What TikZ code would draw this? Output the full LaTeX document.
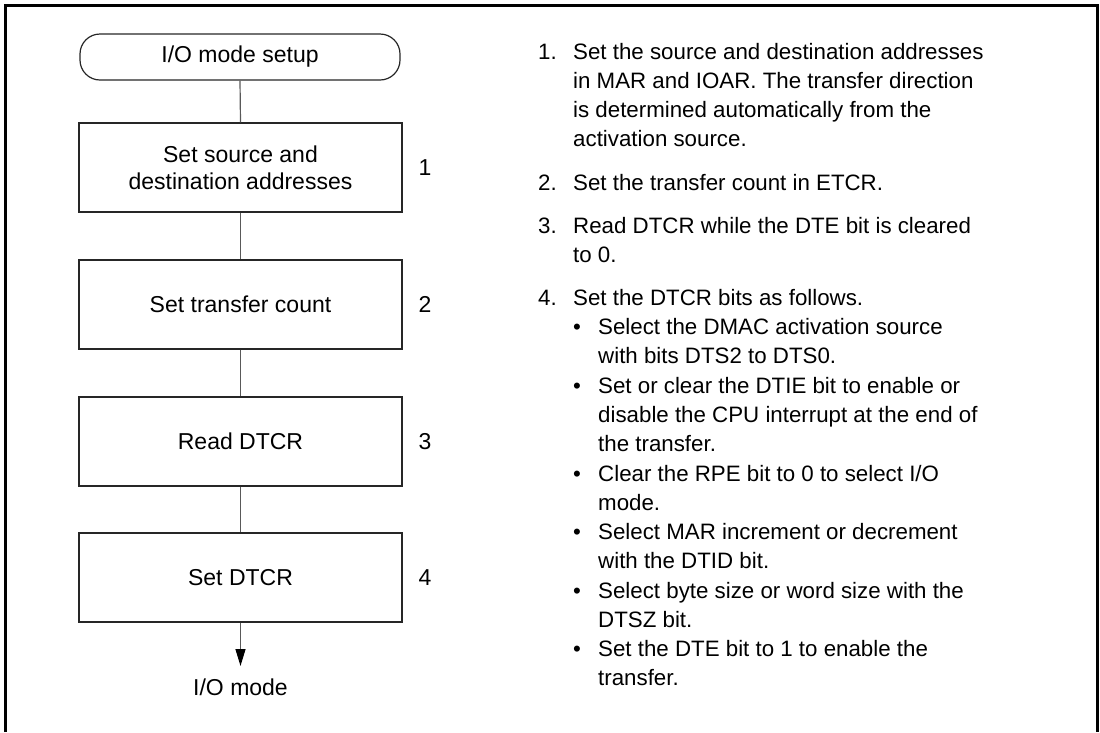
\documentclass[tikz,border=0pt]{standalone}
\usepackage{fontspec}
\setmainfont{Liberation Sans}
\usetikzlibrary{arrows.meta}
\begin{document}
\begin{tikzpicture}[x=1pt,y=-1pt,
  flowbox/.style={draw=black!85, line width=1.2pt, minimum width=323pt, minimum height=89pt, inner sep=0pt, align=center, font=\fontsize{23}{27}\selectfont},
  term/.style={draw=black!85, line width=1.2pt, rounded corners=20pt, minimum width=320pt, minimum height=46pt, inner sep=0pt, font=\fontsize{23}{27}\selectfont},
  conn/.style={draw=black!65, line width=1.2pt},
  stepnum/.style={inner sep=0pt, font=\fontsize{23}{27}\selectfont},
  txt/.style={anchor=base west, inner sep=0pt, font=\fontsize{22.3}{29}\selectfont},
  frame/.style={line width=3pt}]
\useasboundingbox (0,0) rectangle (1100,732);
\draw[frame] (5,732) -- (5,5) -- (1097,5) -- (1097,732);

% flowchart
\node[term] (t) at (240,57) {I/O mode setup};
\node[flowbox] (b1) at (240.5,167.5) {Set source and\\destination addresses};
\node[flowbox] (b2) at (240.5,304.5) {Set transfer count};
\node[flowbox] (b3) at (240.5,441.5) {Read DTCR};
\node[flowbox] (b4) at (240.5,577.5) {Set DTCR};
\node[stepnum] (n1) at (425,167.5) {1};
\node[stepnum] (n2) at (425,304.5) {2};
\node[stepnum] (n3) at (425,441.5) {3};
\node[stepnum] (n4) at (425,577.5) {4};
\coordinate (tip) at (240.5,666);
\node[stepnum] (out) at (240.5,687) {I/O mode};
\draw[conn] (t.south) -- (b1.north);
\draw[conn] (b1.south) -- (b2.north);
\draw[conn] (b2.south) -- (b3.north);
\draw[conn] (b3.south) -- (b4.north);
\draw[conn,-{Triangle[length=17pt,width=10pt,color=black,fill=black]}] (b4.south) -- (tip);

% notes
\node[txt] (l1) at (538,59) {1.};
\node[txt] (l1a) at (573,59) {Set the source and destination addresses};
\node[txt] (l1b) at (573,88) {in MAR and IOAR. The transfer direction};
\node[txt] (l1c) at (573,117) {is determined automatically from the};
\node[txt] (l1d) at (573,146) {activation source.};
\node[txt] (l2) at (538,190) {2.};
\node[txt] (l2a) at (573,190) {Set the transfer count in ETCR.};
\node[txt] (l3) at (538,233) {3.};
\node[txt] (l3a) at (573,233) {Read DTCR while the DTE bit is cleared};
\node[txt] (l3b) at (573,262) {to 0.};
\node[txt] (l4) at (538,305) {4.};
\node[txt] (l4a) at (573,305) {Set the DTCR bits as follows.};
\node[txt] (bu1) at (573,334) {•};
\node[txt] (b1a) at (598,334) {Select the DMAC activation source};
\node[txt] (b1b) at (598,363) {with bits DTS2 to DTS0.};
\node[txt] (bu2) at (573,393) {•};
\node[txt] (b2a) at (598,393) {Set or clear the DTIE bit to enable or};
\node[txt] (b2b) at (598,422) {disable the CPU interrupt at the end of};
\node[txt] (b2c) at (598,451) {the transfer.};
\node[txt] (bu3) at (573,481) {•};
\node[txt] (b3a) at (598,481) {Clear the RPE bit to 0 to select I/O};
\node[txt] (b3b) at (598,510) {mode.};
\node[txt] (bu4) at (573,539) {•};
\node[txt] (b4a) at (598,539) {Select MAR increment or decrement};
\node[txt] (b4b) at (598,568) {with the DTID bit.};
\node[txt] (bu5) at (573,598) {•};
\node[txt] (b5a) at (598,598) {Select byte size or word size with the};
\node[txt] (b5b) at (598,627) {DTSZ bit.};
\node[txt] (bu6) at (573,656) {•};
\node[txt] (b6a) at (598,656) {Set the DTE bit to 1 to enable the};
\node[txt] (b6b) at (598,685) {transfer.};
\end{tikzpicture}
\end{document}
